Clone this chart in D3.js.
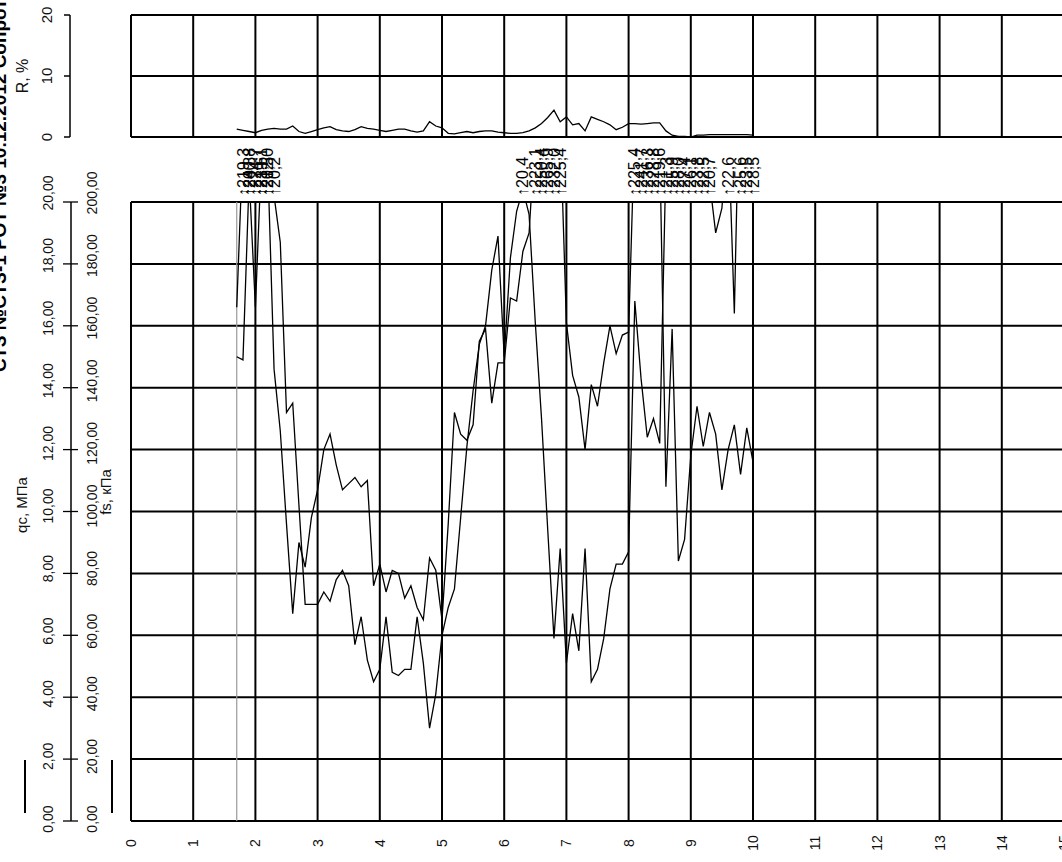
<!DOCTYPE html>
<html>
<head>
<meta charset="utf-8">
<script src="https://cdn.jsdelivr.net/npm/d3@7"></script>
<style>
  body { margin: 0; background: #fff; }
  svg { display: block; font-family: "Liberation Sans", Arial, sans-serif; }
</style>
</head>
<body>
<svg id="chart" width="1062" height="862"></svg>
<script>
// Sounding depths, m
const depth = [1.7, 1.8, 1.9, 2.0, 2.1, 2.2, 2.3, 2.4, 2.5, 2.6, 2.7, 2.8, 2.9,
  3.0, 3.1, 3.2, 3.3, 3.4, 3.5, 3.6, 3.7, 3.8, 3.9,
  4.0, 4.1, 4.2, 4.3, 4.4, 4.5, 4.6, 4.7, 4.8, 4.9,
  5.0, 5.1, 5.2, 5.3, 5.4, 5.5, 5.6, 5.7, 5.8, 5.9,
  6.0, 6.1, 6.2, 6.3, 6.4, 6.5, 6.6, 6.7, 6.8, 6.9,
  7.0, 7.1, 7.2, 7.3, 7.4, 7.5, 7.6, 7.7, 7.8, 7.9,
  8.0, 8.1, 8.2, 8.3, 8.4, 8.5, 8.6, 8.7, 8.8, 8.9,
  9.0, 9.1, 9.2, 9.3, 9.4, 9.5, 9.6, 9.7, 9.8, 9.9, 10.0];

// Cone resistance qc, MPa
const qc = [15.0, 14.9, 20.8, 16.6, 21.6, 20.5, 20.2, 18.7, 13.2, 13.5, 10.2, 7.0, 7.0,
  7.0, 7.4, 7.1, 7.8, 8.1, 7.6, 5.7, 6.6, 5.2, 4.5,
  4.9, 6.6, 4.8, 4.7, 4.9, 4.9, 6.6, 5.1, 3.0, 4.1,
  6.0, 6.9, 7.5, 9.8, 12.1, 13.9, 15.4, 16.0, 17.8, 18.9,
  15.0, 18.2, 19.7, 20.4, 19.6, 16.1, 13.0, 9.4, 5.9, 8.8,
  5.1, 6.7, 5.5, 8.8, 4.5, 4.9, 5.9, 7.5, 8.3, 8.3,
  8.7, 16.8, 14.3, 12.4, 13.0, 12.2, 21.3, 25.9, 28.0, 27.4,
  26.1, 23.8, 22.5, 20.7, 19.0, 19.8, 22.6, 16.4, 25.6, 23.5, 28.5];

// Sleeve friction fs, kPa
const fs = [166, 219.3, 240.8, 224.7, 239.1, 212.0, 146, 126, 96, 67, 90, 82, 98,
  107, 120, 125, 115, 107, 109, 111, 108, 110, 76,
  83, 74, 81, 80, 72, 76, 69, 65, 85, 81,
  65, 96, 132, 125, 123, 128, 155, 159, 135, 148,
  148, 169, 168, 184, 190, 223.1, 250.4, 265.9, 232.0, 225.4,
  161, 144, 137, 120, 141, 134, 148, 160, 151, 157,
  158, 225.4, 241.7, 236.3, 228.8, 219.6, 108, 159, 84, 91,
  118, 134, 121, 132, 125, 107, 120, 128, 112, 127, 116];

// Friction ratio R, %
const rf = [1.3, 1.1, 0.9, 0.7, 1.1, 1.3, 1.4, 1.3, 1.3, 1.8, 0.9, 0.6, 0.9,
  1.2, 1.5, 1.7, 1.2, 1.0, 0.9, 1.2, 1.7, 1.4, 1.3,
  1.1, 0.9, 1.1, 1.3, 1.3, 1.0, 0.8, 1.0, 2.5, 1.8,
  1.5, 0.6, 0.5, 0.7, 0.9, 0.7, 0.9, 1.0, 1.0, 0.8,
  0.7, 0.6, 0.6, 0.7, 1.0, 1.5, 2.2, 3.2, 4.4, 2.5,
  3.3, 2.0, 2.2, 1.0, 3.3, 2.9, 2.5, 2.0, 1.2, 1.6,
  2.2, 2.2, 2.1, 2.2, 2.3, 2.3, 1.0, 0.3, 0.1, 0.1,
  0.0, 0.3, 0.3, 0.4, 0.4, 0.4, 0.4, 0.4, 0.4, 0.4, 0.3];

// Axis ticks
const depthTicks = [0, 1, 2, 3, 4, 5, 6, 7, 8, 9, 10, 11, 12, 13, 14, 15];
const qcTicks = [0, 2, 4, 6, 8, 10, 12, 14, 16, 18, 20];
const fsTicks = [0, 20, 40, 60, 80, 100, 120, 140, 160, 180, 200];
const rTicks = [0, 10, 20];

const title = "СТЗ №СТЗ-1  РОТ №3  10.12.2012  Сопротивление";

const svg = d3.select("#chart");

const x = d3.scaleLinear().domain([0, 15]).range([131, 1064]);
const yQ = d3.scaleLinear().domain([0, 20]).range([821, 202]);
const yF = d3.scaleLinear().domain([0, 200]).range([821, 202]);
const yR = d3.scaleLinear().domain([0, 20]).range([137, 15]);
// tick-label placement on the value axis runs on a slightly longer span
const yLab = d3.scaleLinear().domain([0, 20]).range([819, 193]);

const comma = f => v => d3.format(f)(v).replace(".", ",");
const f2 = comma(".2f"), f1 = comma(".1f");

const rows = depth.map((d, i) => ({ d, qc: qc[i], fs: fs[i], r: rf[i] }));

// ---- title (rotated, runs along the left edge)
svg.append("text")
  .attr("transform", `translate(6,372) rotate(-90)`)
  .attr("font-size", 19).attr("font-weight", "bold")
  .attr("fill", "#000")
  .text(title);

// ---- grids
function panelGrid(yScale, hTicks, vTop, vBottom) {
  const g = svg.append("g").attr("stroke", "#000").attr("stroke-width", 2).attr("fill", "none");
  g.selectAll("line.v").data(depthTicks).join("line")
    .attr("x1", d => x(d)).attr("x2", d => x(d))
    .attr("y1", vTop).attr("y2", vBottom);
  g.selectAll("line.h").data(hTicks).join("line")
    .attr("x1", x(0)).attr("x2", x(15))
    .attr("y1", d => yScale(d)).attr("y2", d => yScale(d));
}
panelGrid(yR, rTicks, yR(20), yR(0));
panelGrid(yQ, qcTicks, yQ(20), yQ(0));

// start-of-record marker
svg.append("line")
  .attr("x1", x(depth[0])).attr("x2", x(depth[0]))
  .attr("y1", yQ(20)).attr("y2", yQ(0))
  .attr("stroke", "#9a9a9a").attr("stroke-width", 1.2);

// ---- clip regions
const defs = svg.append("defs");
defs.append("clipPath").attr("id", "clipMain").append("rect")
  .attr("x", x(0)).attr("y", yQ(20)).attr("width", x(15) - x(0)).attr("height", yQ(0) - yQ(20));
defs.append("clipPath").attr("id", "clipTop").append("rect")
  .attr("x", x(0)).attr("y", yR(20)).attr("width", x(15) - x(0)).attr("height", yR(0) - yR(20));

// ---- curves
const lineQ = d3.line().x(d => x(d.d)).y(d => yQ(d.qc));
const lineF = d3.line().x(d => x(d.d)).y(d => yF(d.fs));
const lineR = d3.line().x(d => x(d.d)).y(d => yR(d.r));

const main = svg.append("g").attr("clip-path", "url(#clipMain)")
  .attr("fill", "none").attr("stroke", "#000").attr("stroke-width", 1.3)
  .attr("stroke-linejoin", "miter");
main.append("path").attr("d", lineQ(rows));
main.append("path").attr("d", lineF(rows));

svg.append("g").attr("clip-path", "url(#clipTop)")
  .append("path").attr("d", lineR(rows))
  .attr("fill", "none").attr("stroke", "#000").attr("stroke-width", 1.3);

// ---- values beyond the scale, written above the panel
const over = [];
rows.forEach(r => {
  if (r.fs > 200) over.push({ d: r.d, t: "↑" + f1(r.fs) });
  if (r.qc > 20) over.push({ d: r.d, t: "↑" + f1(r.qc) });
});
svg.append("g").selectAll("text").data(over).join("text")
  .attr("transform", d => `translate(${x(d.d)},196) rotate(-90)`)
  .attr("dy", "0.35em")
  .attr("font-size", 16).attr("fill", "#000")
  .text(d => d.t);

// ---- left axes
const axR = svg.append("g");
axR.append("line").attr("x1", 70).attr("x2", 70).attr("y1", yR(0)).attr("y2", yR(20))
  .attr("stroke", "#000").attr("stroke-width", 1.5);
axR.selectAll("line.t").data(rTicks).join("line")
  .attr("x1", 64).attr("x2", 70).attr("y1", d => yR(d)).attr("y2", d => yR(d))
  .attr("stroke", "#000").attr("stroke-width", 1.5);
axR.selectAll("text").data(rTicks).join("text")
  .attr("transform", d => `translate(47,${yR(d)}) rotate(-90)`)
  .attr("text-anchor", "middle").attr("dy", "0.35em")
  .attr("font-size", 15).attr("fill", "#111")
  .text(d => d);
svg.append("text")
  .attr("transform", `translate(22,${yR(10)}) rotate(-90)`)
  .attr("text-anchor", "middle").attr("dy", "0.35em")
  .attr("font-size", 16).attr("fill", "#111")
  .text("R, %");

const axM = svg.append("g");
axM.append("line").attr("x1", 71).attr("x2", 71).attr("y1", yQ(0)).attr("y2", yQ(20))
  .attr("stroke", "#000").attr("stroke-width", 1.5);
axM.selectAll("line.t").data(qcTicks).join("line")
  .attr("x1", 63).attr("x2", 78).attr("y1", d => yQ(d)).attr("y2", d => yQ(d))
  .attr("stroke", "#000").attr("stroke-width", 1.3);
axM.selectAll("text.qc").data(qcTicks).join("text")
  .attr("transform", d => `translate(48,${yLab(d)}) rotate(-90)`)
  .attr("text-anchor", "middle").attr("dy", "0.35em")
  .attr("font-size", 14).attr("fill", "#111")
  .text(d => f2(d));
axM.selectAll("text.fs").data(fsTicks).join("text")
  .attr("transform", (d, i) => `translate(92,${yLab(qcTicks[i])}) rotate(-90)`)
  .attr("text-anchor", "middle").attr("dy", "0.35em")
  .attr("font-size", 14).attr("fill", "#111")
  .text(d => f2(d));
svg.append("text")
  .attr("transform", `translate(22,505) rotate(-90)`)
  .attr("text-anchor", "middle").attr("dy", "0.35em")
  .attr("font-size", 15).attr("fill", "#111")
  .text("qc, МПа");
svg.append("text")
  .attr("transform", `translate(106,492) rotate(-90)`)
  .attr("text-anchor", "middle").attr("dy", "0.35em")
  .attr("font-size", 15).attr("fill", "#111")
  .text("fs, кПа");

// line-style keys for the two curves
svg.append("g").attr("stroke", "#000").attr("stroke-width", 2)
  .selectAll("line").data([25, 112]).join("line")
  .attr("x1", d => d).attr("x2", d => d).attr("y1", 760).attr("y2", 813);

// ---- depth axis labels
svg.append("g").selectAll("text").data(depthTicks).join("text")
  .attr("transform", d => `translate(${x(d)},843) rotate(-90)`)
  .attr("text-anchor", "middle").attr("dy", "0.35em")
  .attr("font-size", 14).attr("fill", "#111")
  .text(d => d);
</script>
</body>
</html>
